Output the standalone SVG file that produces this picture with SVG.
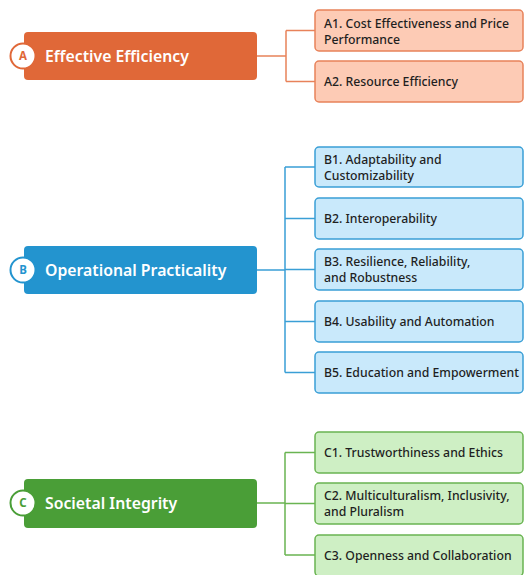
<svg xmlns="http://www.w3.org/2000/svg" width="524" height="575" viewBox="0 0 524 575">
<style>
.main{font-family:"Noto Sans","Open Sans",sans-serif;font-weight:600;font-size:15.8px;fill:#fff}
.lbl{font-family:"Noto Sans","Open Sans",sans-serif;font-weight:500;font-size:12.25px;fill:#1f1f1f}
.ltr{font-family:"Noto Sans","Open Sans",sans-serif;font-weight:700;font-size:11.5px;text-anchor:middle}
.conn{fill:none;stroke-width:1.5}
.a-main{fill:#E06838}.a-child{fill:#FDCBB5;stroke:#E8825A;stroke-width:1.5}
.b-main{fill:#2394CF}.b-child{fill:#C9E9FB;stroke:#3A9FD6;stroke-width:1.5}
.c-main{fill:#4A9E37}.c-child{fill:#CEEFC4;stroke:#6AB452;stroke-width:1.5}
</style>
<g id="connectors">
<path class="conn" stroke="#E8825A" d="M257 56H286M286 30.5V81.5M286 30.5H315M286 81.5H315"/>
<path class="conn" stroke="#3A9FD6" d="M257 270H285M285 167V372.5M285 167H315M285 218.5H315M285 269.5H315M285 321.5H315M285 372.5H315"/>
<path class="conn" stroke="#6AB452" d="M257 503H285M285 452.5V555M285 452.5H315M285 503.5H315M285 555H315"/>
</g>
<g id="A">
<rect class="a-main" x="24" y="32" width="233" height="48" rx="4"/>
<circle cx="23" cy="56" r="12.5" fill="#fff" stroke="#E06838" stroke-width="2"/>
<text class="ltr" x="23" y="60" fill="#E06838">A</text>
<text class="main" x="45" y="62">Effective Efficiency</text>
</g>
<g id="A1"><rect class="a-child" x="315" y="10" width="208" height="41" rx="4"/>
<text class="lbl" x="324" y="27.5">A1. Cost Effectiveness and Price</text><text class="lbl" x="324" y="43.5">Performance</text></g>
<g id="A2"><rect class="a-child" x="315" y="61" width="208" height="41" rx="4"/>
<text class="lbl" x="324" y="86">A2. Resource Efficiency</text></g>
<g id="B">
<rect class="b-main" x="24" y="246" width="233" height="48" rx="4"/>
<circle cx="23" cy="270" r="12.5" fill="#fff" stroke="#2394CF" stroke-width="2"/>
<text class="ltr" x="23" y="274" fill="#2394CF">B</text>
<text class="main" x="45" y="276">Operational Practicality</text>
</g>
<g id="B1"><rect class="b-child" x="315" y="147" width="208" height="40" rx="4"/>
<text class="lbl" x="324" y="163.5">B1. Adaptability and</text><text class="lbl" x="324" y="179.5">Customizability</text></g>
<g id="B2"><rect class="b-child" x="315" y="198" width="208" height="41" rx="4"/>
<text class="lbl" x="324" y="223">B2. Interoperability</text></g>
<g id="B3"><rect class="b-child" x="315" y="249" width="208" height="41" rx="4"/>
<text class="lbl" x="324" y="266">B3. Resilience, Reliability,</text><text class="lbl" x="324" y="282">and Robustness</text></g>
<g id="B4"><rect class="b-child" x="315" y="301" width="208" height="41" rx="4"/>
<text class="lbl" x="324" y="326">B4. Usability and Automation</text></g>
<g id="B5"><rect class="b-child" x="315" y="352" width="208" height="41" rx="4"/>
<text class="lbl" x="324" y="377">B5. Education and Empowerment</text></g>
<g id="C">
<rect class="c-main" x="24" y="479" width="233" height="49" rx="4"/>
<circle cx="23" cy="503" r="12.5" fill="#fff" stroke="#4A9E37" stroke-width="2"/>
<text class="ltr" x="23" y="507" fill="#4A9E37">C</text>
<text class="main" x="45" y="509">Societal Integrity</text>
</g>
<g id="C1"><rect class="c-child" x="315" y="432" width="208" height="41" rx="4"/>
<text class="lbl" x="324" y="457">C1. Trustworthiness and Ethics</text></g>
<g id="C2"><rect class="c-child" x="315" y="483" width="208" height="41" rx="4"/>
<text class="lbl" x="324" y="500">C2. Multiculturalism, Inclusivity,</text><text class="lbl" x="324" y="516">and Pluralism</text></g>
<g id="C3"><rect class="c-child" x="315" y="535" width="208" height="41" rx="4"/>
<text class="lbl" x="324" y="559.5">C3. Openness and Collaboration</text></g>
</svg>
